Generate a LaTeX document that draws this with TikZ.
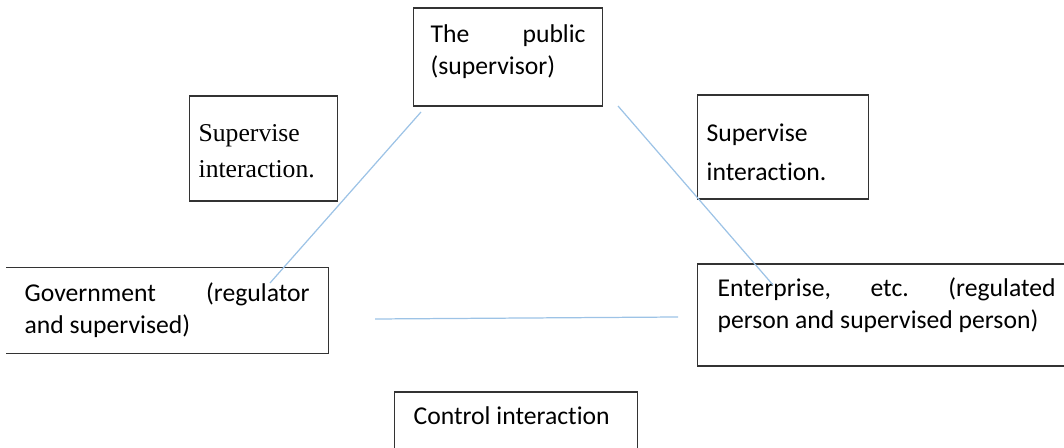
\documentclass[tikz,border=0pt]{standalone}
\usepackage{fontspec}
\setmainfont{Carlito}[Ligatures=CommonOff]
\newfontfamily\timesfont{Liberation Serif}
\definecolor{linkblue}{RGB}{157,195,230}

\begin{document}
\begin{tikzpicture}[x=0.02cm,y=-0.02cm,
    box/.style={draw=black!80, line width=0.75pt, anchor=base west, inner ysep=0pt, align=left, font=\fontsize{14.6}{18}\selectfont, execute at begin node={\spaceskip=0.226em\relax}},
    link/.style={draw=linkblue, line width=0.7pt}]
    \clip (0,0) rectangle (1064,448);
    \node[box, inner xsep=0.34cm, text width=3.10cm, text height=0.70cm, text depth=1.26cm] (pub) at (413,43) {The\hfill public\\(supervisor)};
    \node[box, font=\timesfont\fontsize{14.6}{20}\selectfont, inner xsep=0.18cm, text width=2.60cm, text height=0.92cm, text depth=1.18cm] (supL) at (189,142) {Supervise\\interaction.};
    \node[box, font=\fontsize{14.6}{22.2}\selectfont, inner xsep=0.18cm, text width=3.06cm, text height=0.94cm, text depth=1.14cm] (supR) at (697,142) {Supervise\\interaction.};
    \node[box, draw=none, inner xsep=0.36cm, text width=5.70cm, text height=0.68cm, text depth=1.02cm] (gov) at (6,302) {Government\hfill (regulator\\and supervised)};
    \draw[black!80, line width=0.75pt] (gov.north west) -- (gov.north east) -- (gov.south east) -- (gov.south west);
    \node[box, inner xsep=0.40cm, text width=6.76cm, text height=0.66cm, text depth=1.38cm] (ent) at (697,297) {Enterprise,\hfill etc.\hfill (regulated\\person and supervised person)};
    \node[box, inner xsep=0.38cm, text width=4.10cm, text height=0.66cm, text depth=1.20cm] (ctrl) at (394,425) {Control interaction};
    % loose ends of the links
    \coordinate (pubL) at (421,112);
    \coordinate (govT) at (270,283);
    \coordinate (pubR) at (618,106);
    \coordinate (entT) at (773,285);
    \coordinate (govR) at (375,319);
    \coordinate (entL) at (678,317);
    \path (pubL) edge [link] (govT);
    \path (pubR) edge [link] (entT);
    \path (govR) edge [link] (entL);
\end{tikzpicture}
\end{document}
